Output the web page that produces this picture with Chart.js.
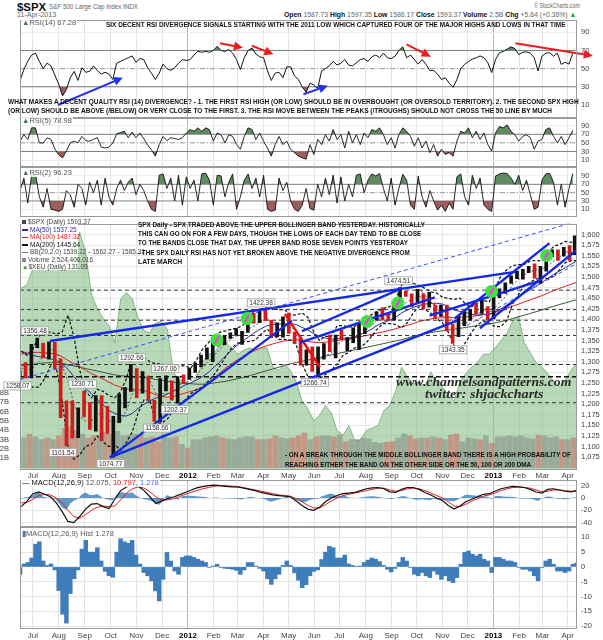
<!DOCTYPE html>
<html>
<head>
<meta charset="utf-8">
<title>$SPX S&amp;P 500 Large Cap Index</title>
<script src="https://cdn.jsdelivr.net/npm/chart.js@4.4.1/dist/chart.umd.min.js"></script>
<style>
  body { margin: 0; background: #fff; }
  #wrap { position: relative; width: 603px; height: 640px; overflow: hidden; font-family: "Liberation Sans", Arial, sans-serif; }
  #wrap canvas { position: absolute; left: 0; }
  .t { position: absolute; white-space: nowrap; line-height: 1.1; transform-origin: 0 50%; }
  .note { font-weight: bold; font-size: 8px; color: #111; }
  .lab { font-size: 7.5px; color: #555; background: rgba(255,255,255,0.85); padding: 0 1px; }
  .leg { font-size: 6.5px; color: #444; }
  .mark { font-family: "Liberation Serif", "DejaVu Serif", serif; font-style: italic; font-weight: bold; font-size: 13px; color: #2a2a2a; }
  .sw { display: inline-block; width: 6px; height: 1.5px; vertical-align: middle; margin-right: 2px; }
</style>
</head>
<body>
<div id="wrap">
  <canvas id="cRsi14" width="603" height="98" style="top:20px"></canvas>
  <canvas id="cRsi5" width="603" height="49" style="top:118px"></canvas>
  <canvas id="cRsi2" width="603" height="50" style="top:167px"></canvas>
  <canvas id="cMain" width="603" height="263" style="top:217px"></canvas>
  <canvas id="cMacd" width="603" height="47" style="top:480px"></canvas>
  <canvas id="cHist" width="603" height="113" style="top:527px"></canvas>
</div>
<script>
// x axis is in calendar weeks, week 0 = Fri 17-Jun-2011
const monthPos = [2, 6.43, 10.86, 15.3, 19.7, 24.1, 28.5, 32.9, 37.0, 41.4, 45.7, 50.1, 54.4, 58.9, 63.3, 67.6, 72.0, 76.3, 80.7, 85.1, 89.1, 93.4];
const monthLabels = ['Jul', 'Aug', 'Sep', 'Oct', 'Nov', 'Dec', '2012', 'Feb', 'Mar', 'Apr', 'May', 'Jun', 'Jul', 'Aug', 'Sep', 'Oct', 'Nov', 'Dec', '2013', 'Feb', 'Mar', 'Apr'];
const priceTicks = [1075, 1100, 1125, 1150, 1175, 1200, 1225, 1250, 1275, 1300, 1325, 1350, 1375, 1400, 1425, 1450, 1475, 1500, 1525, 1550, 1575, 1600];
const volTicks = [1, 2, 3, 4, 5, 6, 7, 8];
const rsiTicks = [10, 30, 50, 70, 90];
const macdTicks = [-40, -20, 0, 20];
const histTicks = [-20, -15, -10, -5, 0, 5, 10];

// weekly series (one value per week, last one is Thu 11-Apr-2013)
const high = [1280,1298,1341,1356,1344,1347,1346,1307,1208,1208, 1191,1231,1204,1220,1220,1195,1171,1224,1239,1293,
  1284,1277,1266,1209,1260,1267,1255,1265,1269,1285, 1297,1316,1333,1345,1354,1362,1368,1378,1372,1405,
  1414,1419,1422,1398,1392,1406,1415,1370,1356,1328, 1335,1335,1343,1363,1363,1375,1357,1380,1390,1395,
  1406,1418,1427,1413,1438,1475,1467,1460,1471,1460, 1464,1434,1434,1434,1388,1409,1420,1423,1438,1448,
  1430,1467,1472,1486,1503,1514,1518,1525,1531,1525, 1552,1564,1564,1570,1574,1597];
const low = [1258,1262,1262,1333,1309,1306,1283,1168,1102,1120, 1121,1170,1140,1136,1114,1131,1075,1156,1191,1230,
  1215,1226,1209,1159,1158,1231,1209,1202,1248,1258, 1275,1288,1306,1300,1337,1340,1355,1362,1341,1369,
  1391,1392,1397,1357,1359,1358,1367,1343,1292,1292, 1277,1267,1306,1324,1309,1352,1326,1345,1329,1366,
  1391,1398,1398,1397,1398,1429,1454,1430,1440,1426, 1429,1403,1407,1373,1343,1359,1385,1398,1413,1414,
  1398,1401,1451,1461,1485,1496,1495,1510,1497,1485, 1514,1548,1539,1549,1539,1553];
const close = [1271,1268,1340,1344,1316,1345,1292,1199,1179,1124, 1177,1174,1154,1216,1136,1131,1155,1225,1238,1285,
  1253,1264,1216,1159,1244,1255,1220,1265,1258,1278, 1289,1315,1316,1345,1343,1361,1366,1370,1371,1404,
  1397,1408,1398,1370,1379,1403,1369,1353,1295,1318, 1278,1326,1343,1335,1362,1355,1357,1363,1386,1391,
  1406,1418,1411,1407,1438,1466,1460,1441,1461,1429, 1433,1412,1414,1380,1360,1409,1416,1418,1414,1430,
  1402,1467,1472,1486,1503,1513,1518,1520,1516,1518, 1551,1561,1557,1569,1553,1593];
const ma50 = [1325,1320,1315,1312,1310,1307,1303,1295,1282,1265, 1250,1237,1225,1212,1198,1185,1178,1173,1172,1178,
  1190,1200,1208,1214,1218,1224,1230,1237,1245,1250, 1257,1265,1275,1288,1300,1315,1328,1340,1350,1360,
  1370,1378,1385,1388,1389,1389,1390,1388,1381,1375, 1366,1360,1356,1353,1354,1356,1356,1358,1364,1370,
  1378,1387,1393,1398,1405,1415,1422,1428,1433,1436, 1438,1438,1436,1430,1422,1419,1416,1412,1410,1412,
  1411,1418,1425,1434,1443,1452,1462,1470,1478,1487, 1497,1506,1514,1522,1530,1537];
const ma100 = [1318,1320,1322,1322,1321,1320,1318,1312,1303,1295, 1288,1280,1272,1266,1259,1252,1245,1240,1236,1235,
  1234,1232,1228,1222,1218,1216,1218,1222,1226,1230, 1234,1240,1250,1262,1274,1286,1296,1305,1312,1320,
  1327,1333,1338,1342,1346,1349,1351,1352,1350,1348, 1346,1345,1346,1348,1350,1352,1354,1356,1359,1362,
  1365,1368,1371,1374,1378,1382,1386,1390,1395,1398, 1401,1403,1404,1404,1404,1405,1406,1407,1409,1411,
  1413,1417,1421,1426,1431,1436,1441,1446,1451,1456, 1462,1468,1473,1478,1483,1487];
const ma200 = [1290,1292,1294,1296,1297,1298,1298,1296,1293,1290, 1287,1284,1281,1278,1275,1272,1269,1267,1266,1265,
  1264,1263,1261,1258,1256,1254,1252,1250,1249,1248, 1247,1247,1248,1250,1252,1254,1257,1260,1263,1267,
  1271,1275,1279,1283,1287,1291,1295,1298,1301,1304, 1307,1310,1313,1316,1319,1322,1325,1328,1331,1334,
  1337,1340,1343,1346,1349,1352,1356,1360,1363,1366, 1369,1371,1373,1375,1377,1379,1381,1383,1385,1387,
  1389,1392,1395,1398,1402,1406,1410,1414,1418,1422, 1427,1431,1435,1439,1443,1446];
const bbUpper = [1325,1315,1330,1360,1370,1370,1365,1370,1410,1360, 1280,1230,1215,1235,1230,1220,1215,1230,1260,1315,
  1320,1310,1300,1295,1295,1285,1275,1290,1290,1285, 1305,1330,1345,1360,1370,1373,1377,1380,1387,1408,
  1421,1425,1427,1425,1423,1423,1411,1410,1415,1405, 1370,1350,1360,1360,1385,1385,1382,1383,1395,1405,
  1412,1420,1426,1430,1448,1480,1492,1485,1480,1473, 1465,1462,1452,1450,1447,1450,1436,1430,1438,1445,
  1441,1473,1503,1517,1527,1529,1530,1538,1539,1538, 1556,1572,1577,1584,1582,1585];
const bbMid = [1285,1280,1285,1300,1315,1330,1325,1290,1255,1200, 1170,1160,1160,1180,1170,1160,1160,1160,1185,1225,
  1250,1260,1255,1225,1225,1225,1230,1245,1250,1255, 1270,1285,1300,1315,1330,1343,1355,1362,1367,1378,
  1386,1395,1402,1395,1388,1388,1381,1375,1355,1335, 1310,1305,1315,1320,1340,1350,1352,1358,1365,1375,
  1387,1400,1408,1410,1418,1430,1442,1450,1455,1448, 1440,1432,1422,1410,1392,1390,1391,1400,1413,1420,
  1416,1428,1443,1457,1482,1494,1505,1513,1517,1518, 1526,1537,1547,1559,1560,1562];
const bbLower = [1245,1245,1240,1240,1260,1290,1285,1210,1100,1070, 1080,1100,1105,1125,1110,1100,1105,1090,1110,1135,
  1180,1210,1210,1155,1155,1165,1185,1200,1210,1225, 1235,1240,1255,1270,1290,1313,1333,1344,1347,1348,
  1351,1365,1377,1365,1353,1353,1351,1340,1295,1265, 1250,1260,1270,1280,1295,1315,1322,1333,1335,1345,
  1362,1380,1390,1390,1388,1380,1392,1415,1430,1423, 1415,1402,1392,1370,1337,1330,1346,1370,1388,1395,
  1391,1383,1383,1397,1437,1459,1480,1488,1495,1498, 1496,1502,1517,1534,1538,1539];
const volume = [3.2,3.6,3.3,3.0,3.2,3.0,3.4,4.2,4.4,4.0, 3.6,3.2,3.4,3.5,3.8,3.6,3.9,3.4,3.5,3.6,
  3.5,3.2,3.3,2.8,3.6,3.2,3.3,2.5,2.1,3.0, 3.0,3.2,3.3,3.4,3.2,3.1,3.0,3.2,3.3,3.3,
  3.0,3.0,3.1,3.4,3.2,3.1,3.2,3.4,3.7,3.0, 3.3,3.4,3.4,3.3,3.5,2.8,3.0,3.0,3.2,3.1,
  2.7,2.6,2.7,2.8,3.2,3.6,3.4,3.1,3.2,3.2, 3.3,3.2,3.0,3.5,3.6,2.8,3.2,3.1,3.0,3.4,
  2.6,3.3,3.3,3.4,3.3,3.4,3.2,3.1,3.5,3.4, 3.2,3.3,3.0,3.0,3.2,2.6];
const xeu = [140.5,141.0,143.0,143.5,142.5,143.5,144.5,143.5,144.5,145.5, 147.5,145.0,139.8,138.0,136.8,135.9,133.7,139.2,140.0,139.2,
  136.8,135.2,135.0,136.2,136.4,135.4,130.1,129.1,128.9,128.6, 129.5,131.3,132.3,132.5,133.5,133.7,133.1,132.3,132.8,133.1,
  132.8,133.1,133.1,130.7,130.3,131.1,130.3,128.9,126.5,125.5, 124.0,124.7,125.9,125.0,122.8,122.2,123.4,121.6,121.6,122.8,
  123.1,123.4,125.3,125.9,127.7,130.7,129.5,128.6,128.9,128.3, 130.1,128.9,128.3,127.1,126.5,128.9,129.9,130.7,131.3,132.3,
  132.3,133.1,134.0,134.9,136.4,137.1,133.7,132.5,131.3,130.7, 129.9,128.9,128.3,129.1,130.3,131.1];
const macd = [-14,-5,7,10,6,2,-8,-22,-38,-40, -30,-18,-10,-9,-14,-17,-2,12,18,23,
  19,12,2,-9,-5,-1,1.6,5,9,12.5, 16.5,18.5,20,21,20,19,18,18,16,14,
  12,9,7,5,4,3,2,-5,-12,-18, -20,-15,-6,0,4,7,8,9,12,15,
  16.5,17,15,10,9,14,17,17,14,9, 5,0,-4,-12,-18,-13,-6,-2,2,6,
  7,11,15,17,19,18,17,14,9.7,8, 14,15,13,11,10,12.1];
const macdSignal = [-8,-7,-2,4,6,5,0,-8,-20,-30, -33,-27,-20,-15,-13,-14,-13,-3,8,15,
  18,16,10,2,-3,-3,-1,2,6,9, 12,15,17,19,20,20,19,18,17,15,
  13,11,9,7,5,4,3,-1,-6,-12, -16,-16,-11,-5,0,4,6,8,10,12,
  14,16,16,13,11,12,15,16,15,12, 8,4,0,-6,-13,-14,-10,-5,-1,3,
  5,8,12,15,17,18,17,16,13,10, 11,13,13,12,11,10.8];

// finer series at about 2/3 week spacing
const rsi14 = [37,49,58,65,67,58,50,56,53,43, 33,20,27,40,47,37,51,46,47,53, 48,44,46,44,38,56,58,60,62,64,
  57,61,60,51,45,38,45,55,50,48, 51,56,60,59,60,65,69,68,69,68, 70,74.5,70,69,71,67,60,49,62,70,
  72.7,66,63,62,47.5,37,45,46,40,52, 52,42,38,30,24,34,32,28,47.5,50, 53,58,54,56,60,54,53,56.5,60,61,
  58,63,65,62,67,62,61,63.7,70,74, 62,65,60,55,60,54.7,48,48,44,38, 40,34,29.5,38,50,54.7,58,60.5,62,64,
  62,56.5,45.7,60,67.5,69,71.5,74,72,65.5, 68,68.5,67,62,47.5,63.7,67,67.5,63.7,67, 54.7,57,55,67.3];
const rsi5 = [54,69,58,85,85,50,50,62,58,36, 22,15,31,50,54,50,65,55,54,58, 62,40,38,40,50,71,74,77,62,75,
  62,73,60,45,34,19,46,65,55,62, 60,58,62,73,81,77,85,77,85,81, 54,73,69,50,69,65,46,35,65,85,
  81,58,73,54,38,19,46,65,46,54, 35,27,19,15,12,46,23,58,46,69, 54,81,58,69,38,77,50,69,46,73,
  62,81,77,85,69,46,62,38,69,85, 77,65,42,62,38,54,27,46,19,35, 23,27,19,54,77,73,85,62,77,58,
  73,46,31,73,88,85,92,77,69,54, 65,69,62,35,54,58,81,85,65,50, 65,46,62,79];
const rsi2 = [55,85,25,92,95,40,15,60,10,8, 5,10,55,45,15,70,60,20,75,50, 80,20,85,40,20,60,80,55,75,85,
  45,70,55,30,10,5,92,95,60,85, 30,92,20,88,60,80,30,95,97,80, 20,92,90,40,75,95,10,40,80,95,
  60,85,40,92,10,5,8,85,55,75, 30,10,5,20,60,12,8,70,40,85, 45,92,25,88,30,70,40,92,95,50,
  80,95,90,96,60,30,85,20,60,94, 80,20,10,90,40,15,55,30,8,20, 5,25,10,88,95,40,20,92,60,85,
  20,10,5,90,95,97,96,85,70,92, 55,80,45,10,15,80,95,96,75,20, 70,15,60,96];
const macdHist = [-2.5,1,1.5,3,7.7,8.5,2,0.5,1,-1, -8,-16,-19,-9,-4,-1,6,9,5,5, 6.5,2,-1.5,-3,-3.5,5,9.5,8.5,8,9,
  4,1,-1.9,-3,-4.7,-8.1,-11.5,-4.2,4.9,2, -1.4,-2.5,3.2,3.7,3.7,3.2,2.6,2,1.5,-0.2, 0.3,0.9,-0.2,-0.5,-0.6,-0.8,-1.2,-2.5,-1,1.5,
  1.5,0.3,-0.5,-1.4,-4,-5.9,-4,-2.5,0.5,2, 0.5,-2,-4.5,-7,-6,-3,-1.5,-1,2.5,5, 7,6.5,3,3,4,1,0.5,0.2,0.3,1.5,
  2.3,3,2.6,1.8,0.5,-0.8,-1.7,-0.5,1.5,3.2, 2,-0.2,-2.5,-3,-1.9,-3,-3.6,-1.4,-2.5,-4.2, -3,-4.7,-5.3,-3.6,0.9,4.9,5.4,4.3,3.7,4.3,
  2.6,2,-1.9,3.2,3.2,2.6,2,2,1.5,-0.2, -0.8,-0.8,-1.4,-3,-4.7,-0.2,2,2.6,0.9,-1.4, -1.4,-1.9,-1.4,0.9,1.3];

// annotations drawn on the price panel: [week1, price1, week2, price2]
const blueTrend = [[4.92,1349,84.4,1512], [15.17,1074.3,46.27,1397], [15.17,1074.3,74.46,1397], [47.98,1372,65.06,1473],
  [47.6,1345,70.7,1452], [74.1,1402,90.3,1580], [78.4,1379,94.96,1564], [69.8,1409,88.6,1491]];
const blueDashed = [[-0.2,1258,94.96,1631], [76.2,1386,94.96,1532]];
const redThick = [[45.07,1413,51.05,1287]];
const redThin = [[68.1,1471,74.1,1379]];
const levels = [1469, 1423, 1398, 1362, 1293.5, 1203.3];
const strongLevel = [1264.5];
const circleW = [33.45, 38.6, 59.1, 64.4, 80.4, 89.8];
const circleP = [1351.5, 1401.9, 1395, 1438.5, 1466, 1550.8];
const pivotW = [2.36, -0.6, 10.5, 18.9, 24.6, 26.3, 23.2, 7.1, 15.3, 41.0, 50.2, 64.5, 73.8];
const pivotP = [1356.48, 1258.07, 1230.71, 1292.66, 1267.06, 1202.37, 1158.66, 1101.54, 1074.77, 1422.38, 1266.74, 1474.51, 1343.35];
const pivotHigh = [1, 0, 1, 1, 1, 0, 0, 0, 0, 1, 0, 1, 0];
// RSI(14) arrows: [week1, rsi1, week2, rsi2, colour]
const rsiArrows = [[6.29,10,17.36,40,'#2233ee'], [33.97,77.9,37.9,73,'#ee1c1c'], [39.43,75.2,43.1,65.8,'#ee1c1c'],
  [48.23,21.8,52.42,31.2,'#2233ee'], [65.85,76.8,70,63.1,'#ee1c1c'], [84.47,77.9,97.7,64.2,'#ee1c1c']];

const X_MIN = -0.205, X_MAX = 95;
const weekX = [...Array(95).keys(), 94.86];
const FINE_START = -0.2, FINE_STEP = 0.6608;
const fineX = Array.from({ length: 145 }, (_, i) => FINE_START + i * FINE_STEP);

Chart.defaults.font.family = '"Liberation Sans", Arial, sans-serif';
Chart.defaults.font.size = 8;
Chart.defaults.color = '#444';
Chart.defaults.animation = false;
Chart.defaults.plugins.legend.display = false;
Chart.defaults.plugins.tooltip.enabled = false;
Chart.defaults.elements.point.radius = 0;
Chart.defaults.elements.line.tension = 0;

const pts = (xs, ys) => ys.map((y, i) => ({ x: xs[i], y }));
const isYear = i => /^20/.test(monthLabels[i] || '');

function xAxis(labels) {
  return {
    type: 'linear', min: X_MIN, max: X_MAX, offset: false,
    afterBuildTicks: s => { s.ticks = monthPos.map(v => ({ value: v })); },
    afterFit: s => { s.height = labels ? 11 : 0; s.paddingLeft = 0; s.paddingRight = 0; },
    ticks: {
      display: labels, autoSkip: false, maxRotation: 0, padding: 2,
      callback: (v, i) => monthLabels[i],
      font: c => ({ size: 8, weight: isYear(c.index) ? 'bold' : 'normal' }),
      color: c => isYear(c.index) ? '#000' : '#444'
    },
    grid: { offset: false, drawTicks: false, color: c => isYear(c.index) ? '#b5b5b5' : '#e3e3e3' },
    border: { display: false }
  };
}

function yAxis(min, max, ticks, gridColor) {
  return {
    axis: 'y', position: 'right', min, max,
    afterBuildTicks: s => { s.ticks = ticks.map(v => ({ value: v })); },
    afterFit: s => { s.width = 26; s.paddingTop = 0; s.paddingBottom = 0; },
    ticks: { autoSkip: false, padding: 4, font: { size: 7.5 }, color: '#444' },
    grid: { drawTicks: false, color: gridColor || '#e6e6e6' },
    border: { display: false }
  };
}

function baseOptions(scales, leftPad) {
  return { responsive: false, layout: { padding: { left: leftPad, right: 0, top: 0, bottom: 0 } }, scales };
}

function line(xs, ys, color, width, dash, order, axis) {
  return { type: 'line', data: pts(xs, ys), borderColor: color, borderWidth: width, borderDash: dash || [],
    pointRadius: 0, fill: false, order, yAxisID: axis || 'y' };
}

function segment(s, color, width, dash, order) {
  return { type: 'line', data: [{ x: s[0], y: s[1] }, { x: s[2], y: s[3] }], borderColor: color, borderWidth: width,
    borderDash: dash || [], pointRadius: 0, fill: false, order, yAxisID: 'y' };
}

const frame = {
  id: 'frame',
  afterDraw(chart) {
    const { ctx, chartArea: a } = chart;
    ctx.save();
    ctx.strokeStyle = '#9a9a9a';
    ctx.lineWidth = 1;
    ctx.strokeRect(Math.round(a.left) + 0.5, Math.round(a.top) + 0.5, Math.round(a.right - a.left) - 1, Math.round(a.bottom - a.top) - 1);
    ctx.restore();
  }
};

const arrowPlugin = {
  id: 'arrows',
  afterDatasetsDraw(chart) {
    const { ctx, scales: { x, y } } = chart;
    rsiArrows.forEach(a => {
      const x1 = x.getPixelForValue(a[0]), y1 = y.getPixelForValue(a[1]);
      const x2 = x.getPixelForValue(a[2]), y2 = y.getPixelForValue(a[3]);
      const ang = Math.atan2(y2 - y1, x2 - x1);
      ctx.save();
      ctx.strokeStyle = a[4];
      ctx.fillStyle = a[4];
      ctx.lineWidth = 2;
      ctx.beginPath();
      ctx.moveTo(x1, y1);
      ctx.lineTo(x2 - 5 * Math.cos(ang), y2 - 5 * Math.sin(ang));
      ctx.stroke();
      ctx.beginPath();
      ctx.moveTo(x2, y2);
      ctx.lineTo(x2 - 9 * Math.cos(ang) + 4.5 * Math.sin(ang), y2 - 9 * Math.sin(ang) - 4.5 * Math.cos(ang));
      ctx.lineTo(x2 - 9 * Math.cos(ang) - 4.5 * Math.sin(ang), y2 - 9 * Math.sin(ang) + 4.5 * Math.cos(ang));
      ctx.closePath();
      ctx.fill();
      ctx.restore();
    });
  }
};

const pivotPlugin = {
  id: 'pivots',
  afterDatasetsDraw(chart) {
    const { ctx, scales: { x, y } } = chart;
    ctx.save();
    ctx.font = '6.5px "Liberation Sans", Arial, sans-serif';
    ctx.textAlign = 'center';
    ctx.textBaseline = 'middle';
    pivotW.forEach((w, i) => {
      const txt = pivotP[i].toFixed(2);
      const px = x.getPixelForValue(w);
      const py = y.getPixelForValue(pivotP[i]) + (pivotHigh[i] ? -7 : 6.5);
      const tw = ctx.measureText(txt).width + 4;
      ctx.fillStyle = 'rgba(255,255,255,0.92)';
      ctx.strokeStyle = '#a0a0a0';
      ctx.lineWidth = 0.8;
      ctx.fillRect(px - tw / 2, py - 4, tw, 8);
      ctx.strokeRect(px - tw / 2, py - 4, tw, 8);
      ctx.fillStyle = '#333';
      ctx.fillText(txt, px, py + 0.5);
    });
    ctx.restore();
  }
};

function rsiChart(id, xs, vals, min, max, width, extraPlugins) {
  new Chart(document.getElementById(id), {
    type: 'line',
    data: { datasets: [
      { data: pts(xs, vals), borderColor: '#111', borderWidth: width, order: 1,
        fill: { target: { value: 70 }, above: 'rgba(74,122,74,0.88)', below: 'rgba(0,0,0,0)' } },
      { data: pts(xs, vals), borderColor: 'rgba(0,0,0,0)', borderWidth: 0, order: 2,
        fill: { target: { value: 30 }, above: 'rgba(0,0,0,0)', below: 'rgba(140,72,72,0.88)' } },
      segment([X_MIN, 70, X_MAX, 70], '#8a8a8a', 1, null, 5),
      segment([X_MIN, 30, X_MAX, 30], '#8a8a8a', 1, null, 5),
      segment([X_MIN, 50, X_MAX, 50], '#9a9a9a', 1, [5, 2, 1, 2], 5)
    ] },
    options: baseOptions({ x: xAxis(false), y: yAxis(min, max, rsiTicks, '#ededed') }, 20),
    plugins: [frame].concat(extraPlugins || [])
  });
}

rsiChart('cRsi14', fineX, rsi14, -4.3, 103.5, 1, [arrowPlugin]);
rsiChart('cRsi5', fineX, rsi5, -6.3, 108, 0.9);
rsiChart('cRsi2', fineX, rsi2, -8.5, 111.6, 0.9);

// main price panel
const downWeek = close.map((c, i) => i > 0 && c < close[i - 1]);
const mainSets = [
  { type: 'line', yAxisID: 'yEuro', data: pts(weekX, xeu), fill: 'start', backgroundColor: 'rgba(140,194,140,0.62)',
    borderColor: 'rgba(104,160,104,0.9)', borderWidth: 0.8, pointRadius: 0, order: 100 },
  { type: 'bar', yAxisID: 'yVol', data: pts(weekX, volume), barThickness: 5, order: 90,
    backgroundColor: downWeek.map(d => d ? 'rgba(200,100,92,0.55)' : 'rgba(118,118,118,0.45)') },
  line(weekX, ma200, '#355a35', 1, null, 60),
  line(weekX, ma100, '#e02020', 1, null, 59),
  line(weekX, ma50, '#2c2c9a', 1, null, 58),
  line(weekX, bbUpper, '#111', 1.2, [3, 2], 55),
  line(weekX, bbMid, '#444', 0.9, [2, 2], 55),
  line(weekX, bbLower, '#111', 1.2, [3, 2], 55),
  { type: 'bar', yAxisID: 'y', data: weekX.map((x, i) => ({ x, y: [low[i], high[i]] })), barThickness: 3, order: 30,
    backgroundColor: downWeek.map(d => d ? '#d41a1a' : '#111') }
];
levels.forEach(p => mainSets.push(segment([X_MIN, p, X_MAX, p], '#333', 1, [4, 3], 50)));
strongLevel.forEach(p => mainSets.push(segment([X_MIN, p, X_MAX, p], '#111', 1.6, [5, 3], 50)));
blueDashed.forEach(s => mainSets.push(segment(s, '#3a4cff', 1, [4, 3], 22)));
blueTrend.forEach(s => mainSets.push(segment(s, '#1428e8', 2.4, null, 20)));
redThick.forEach(s => mainSets.push(segment(s, '#ee1010', 2.4, null, 21)));
redThin.forEach(s => mainSets.push(segment(s, '#ee3030', 1, null, 21)));
mainSets.push({ type: 'line', yAxisID: 'y', data: pts(circleW, circleP), showLine: false, order: 12,
  pointRadius: 6.5, pointBackgroundColor: '#3be33b', pointBorderWidth: 0 });
mainSets.push({ type: 'line', yAxisID: 'y', data: pts(circleW, circleP), showLine: false, order: 11,
  pointStyle: 'line', pointRotation: -60, pointRadius: 4, pointBorderColor: '#ff30ff', pointBorderWidth: 2 });

new Chart(document.getElementById('cMain'), {
  type: 'bar',
  data: { datasets: mainSets },
  options: baseOptions({
    x: xAxis(true),
    y: yAxis(1046.8, 1626.3, priceTicks, '#e8e8e8'),
    yEuro: { axis: 'y', type: 'linear', display: false, min: 118, max: 148.6 },
    yVol: {
      axis: 'y', type: 'linear', position: 'left', min: -0.15, max: 26.2,
      afterBuildTicks: s => { s.ticks = volTicks.map(v => ({ value: v })); },
      afterFit: s => { s.width = 20; s.paddingTop = 0; s.paddingBottom = 0; },
      ticks: { autoSkip: false, padding: 3, font: { size: 7.5 }, color: '#444', callback: v => v + 'B' },
      grid: { display: false }, border: { display: false }
    }
  }, 0),
  plugins: [frame, pivotPlugin]
});

new Chart(document.getElementById('cMacd'), {
  type: 'line',
  data: { datasets: [
    { data: pts(fineX, macdHist), fill: 'origin', backgroundColor: 'rgba(58,126,186,0.8)', borderWidth: 0, pointRadius: 0, order: 3 },
    line(weekX, macdSignal, '#e02020', 1, null, 2),
    line(weekX, macd, '#111', 1.2, null, 1)
  ] },
  options: baseOptions({ x: xAxis(false), y: yAxis(-47, 29.2, macdTicks) }, 20),
  plugins: [frame]
});

new Chart(document.getElementById('cHist'), {
  type: 'bar',
  data: { datasets: [
    { data: pts(fineX, macdHist), backgroundColor: '#3f7dba', barPercentage: 1, categoryPercentage: 1 }
  ] },
  options: baseOptions({ x: xAxis(true), y: yAxis(-21, 13.5, histTicks) }, 20),
  plugins: [frame]
});

// text
const wrap = document.getElementById('wrap');
function put(html, x, cy, cls, width, extra) {
  const el = document.createElement('div');
  el.className = 't ' + (cls || '');
  el.innerHTML = html;
  if (extra) Object.assign(el.style, extra);
  wrap.appendChild(el);
  el.style.left = x + 'px';
  el.style.top = (cy - el.offsetHeight / 2) + 'px';
  if (width) el.style.transform = 'scaleX(' + (width / el.offsetWidth).toFixed(3) + ')';
  return el;
}

put('<b>$SPX</b>', 17, 6.5, '', 29, { fontSize: '11px', color: '#111' });
put('S&amp;P 500 Large Cap Index INDX', 49, 6.7, '', 89, { fontSize: '7.5px', color: '#666' });
put('11-Apr-2013', 17, 14.5, '', 39, { fontSize: '7.5px', color: '#666' });
put('© StockCharts.com', 534, 6.3, '', 46, { fontSize: '7.5px', color: '#666' });
put('<b style="color:#111">Open</b> 1587.73 <b style="color:#111">High</b> 1597.35 <b style="color:#111">Low</b> 1586.17 ' +
  '<b style="color:#111">Close</b> 1593.37 <b style="color:#111">Volume</b> 2.5B <b style="color:#111">Chg</b> +5.64 (+0.36%) ' +
  '<span style="color:#2a2">▲</span>', 284, 14.5, '', 292, { fontSize: '7.5px', color: '#666' });

put('<span style="color:#4a7a4a">▲</span>RSI(14) 67.28', 21, 23.2, 'lab');
put('<span style="color:#4a7a4a">▲</span>RSI(5) 78.98', 21, 121, 'lab');
put('<span style="color:#4a7a4a">▲</span>RSI(2) 96.23', 21, 172.8, 'lab');

put('SIX DECENT RSI DIVERGENCE SIGNALS STARTING WITH THE 2011 LOW WHICH CAPTURED FOUR OF THE MAJOR HIGHS AND LOWS IN THAT TIME', 106, 25, 'note', 459);
put('WHAT MAKES A DECENT QUALITY RSI (14) DIVERGENCE? - 1. THE FIRST RSI HIGH (OR LOW) SHOULD BE IN OVERBOUGHT (OR OVERSOLD TERRITORY). 2. THE SECOND SPX HIGH', 8, 102, 'note', 571);
put('(OR LOW) SHOULD BE ABOVE (/BELOW) OR VERY CLOSE TO THE FIRST. 3. THE RSI MOVE BETWEEN THE PEAKS (/TROUGHS) SHOULD NOT CROSS THE 50 LINE BY MUCH', 8, 111.6, 'note', 544);

// price panel legend
const box = document.createElement('div');
Object.assign(box.style, { position: 'absolute', left: '21px', top: '218px', width: '57px', height: '52px', background: 'rgba(255,255,255,0.9)' });
wrap.appendChild(box);
const legendRows = [
  '<i class="sw" style="background:#444;height:4px;width:4px"></i>$SPX (Daily) 1593.37',
  '<i class="sw" style="background:#2c2c9a"></i><span style="color:#2c2c9a">MA(50) 1537.25</span>',
  '<i class="sw" style="background:#e02020"></i><span style="color:#e02020">MA(100) 1487.32</span>',
  '<i class="sw" style="background:#111"></i><span style="color:#111">MA(200) 1445.64</span>',
  '<i class="sw" style="background:#777"></i>BB(20,2.0) 1539.22 - 1562.27 - 1585.32',
  '<i class="sw" style="background:#888;height:4px;width:4px"></i>Volume 2,524,406,016',
  '<span style="color:#3a3">▲</span>$XEU (Daily) 131.05'
];
const legendY = [221.3, 229, 236.6, 244.2, 251.8, 259.3, 266.8];
legendRows.forEach((r, i) => put(r, 22, legendY[i], 'leg'));

put('SPX Daily - SPX TRADED ABOVE THE UPPER BOLLINGER BAND YESTERDAY. HISTORICALLY', 138, 225, 'note', 287);
put('THIS CAN GO ON FOR A FEW DAYS, THOUGH THE LOWS OF EACH DAY TEND TO BE CLOSE', 138, 234.3, 'note', 283);
put('TO THE BANDS CLOSE THAT DAY. THE UPPER BAND ROSE SEVEN POINTS YESTERDAY', 138, 243.6, 'note', 270);
put('- THE SPX DAILY RSI HAS NOT YET BROKEN ABOVE THE NEGATIVE DIVERGENCE FROM', 138, 253, 'note', 272);
put('LATE MARCH', 138, 262.7, 'note', 44);
put('www.channelsandpatterns.com', 396, 382, 'mark', 175);
put('twitter: shjackcharts', 425, 394, 'mark', 118);
put('- ON A BREAK THROUGH THE MIDDLE BOLLINGER BAND THERE IS A HIGH PROBABILITY OF', 285, 455.5, 'note', 286);
put('REACHING EITHER THE BAND ON THE OTHER SIDE OR THE 50, 100 OR 200 DMA', 285, 465, 'note', 246);

put('<span style="color:#111">— MACD(12,26,9)</span> 12.075, <span style="color:#e02020">10.797</span>, <span style="color:#4a6cf0">1.278</span>', 21, 483, 'lab');
put('<span style="color:#3f7dba">▮</span>MACD(12,26,9) Hist 1.278', 21, 533.7, 'lab');
</script>
</body>
</html>
